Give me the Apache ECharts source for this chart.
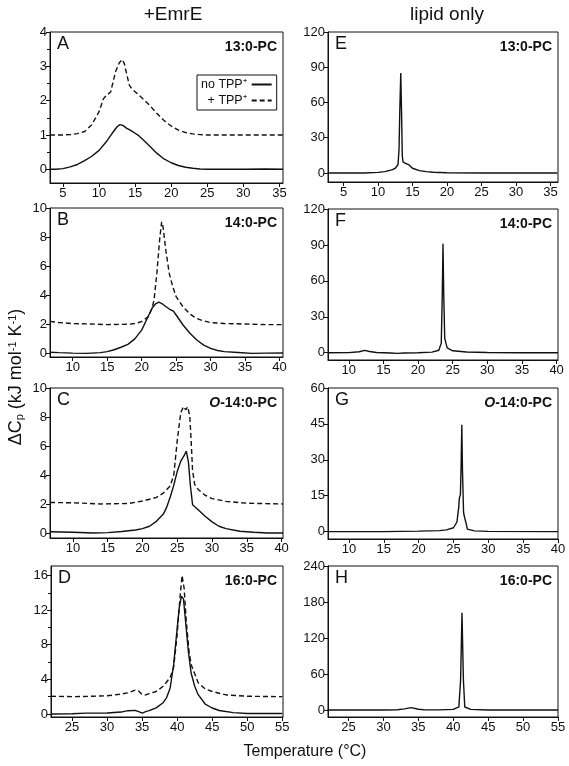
<!DOCTYPE html>
<html><head><meta charset="utf-8">
<script src="https://cdn.jsdelivr.net/npm/echarts@6/dist/echarts.min.js"></script>
<style>html,body{margin:0;padding:0;background:#fff}#c{width:569px;height:766px}</style>
</head><body><div id="c"></div>
<script>
// ---------- data ----------
const a_noTPP = [[3.2,0],[4,0],[5,0.02],[6,0.07],[7,0.14],[8,0.25],[9,0.38],[10,0.55],[11,0.8],[11.5,0.95],[12,1.1],[12.5,1.24],[12.9,1.3],[13.3,1.28],[13.8,1.2],[14.5,1.12],[15,1.05],[15.5,0.98],[16,0.88],[17,0.68],[18,0.47],[19,0.3],[20,0.19],[21,0.11],[22,0.06],[23,0.03],[24,0.01],[25,0],[30,0],[33,0.01],[35.5,0]];
const a_TPP = [[3.2,1],[5,1],[6,1.01],[7,1.04],[8,1.1],[9,1.3],[10,1.68],[10.6,2.05],[11,2.15],[11.6,2.25],[12.3,2.85],[12.8,3.1],[13.2,3.2],[13.5,3.08],[13.8,2.8],[14.2,2.45],[14.6,2.33],[15,2.26],[16,2.07],[17,1.87],[18,1.63],[19,1.42],[20,1.26],[21,1.14],[22,1.07],[23,1.03],[24,1.01],[25,1],[35.5,1]];
const b_noTPP = [[6.7,0.08],[8,0.05],[10,0.02],[12,0],[14,0.05],[15,0.12],[16,0.25],[17,0.42],[18,0.62],[19,1.0],[20,1.6],[21,2.6],[21.5,3.1],[22,3.4],[22.5,3.52],[23,3.4],[24,3.05],[24.6,2.9],[25,2.64],[26,1.95],[27,1.38],[28,0.92],[29,0.57],[30,0.34],[31,0.2],[32,0.12],[34,0.06],[36,0],[38,0.02],[40.5,0.03]];
const b_TPP = [[6.7,2.2],[8,2.12],[10,2.05],[12,2.03],[15,1.98],[18,2.0],[19,2.05],[20,2.18],[21,2.55],[21.5,3.1],[21.8,3.7],[22.2,5.5],[22.6,7.8],[22.9,9.05],[23.1,8.7],[23.5,7.1],[24,5.5],[24.5,4.6],[25,3.9],[26,3.2],[27,2.7],[28,2.4],[29,2.23],[30,2.12],[32,2.05],[35,2.02],[38,1.98],[40.5,1.98]];
const c_noTPP = [[6.7,0.08],[10,0.05],[13,0],[15,0.02],[17,0.1],[19,0.2],[20,0.3],[21,0.46],[22,0.8],[23,1.3],[23.5,1.8],[24,2.5],[24.5,3.3],[25,4.25],[25.5,4.95],[26,5.35],[26.3,5.65],[26.6,4.9],[26.9,3.2],[27.2,1.95],[28,1.6],[29,1.15],[30,0.76],[31,0.46],[32,0.3],[34,0.12],[36,0.05],[38,0],[40.2,0]];
const c_TPP = [[6.7,2.1],[10,2.08],[14,2.0],[18,2.03],[20,2.2],[22,2.45],[23,2.75],[24,3.25],[24.5,4.0],[25,6.4],[25.5,8.3],[25.9,8.72],[26.2,8.5],[26.5,8.7],[26.8,8.05],[27,6.3],[27.2,4.3],[27.5,3.35],[28,3.0],[29,2.6],[30,2.37],[32,2.18],[35,2.05],[40.2,2.0]];
const d_noTPP = [[22,0],[25,0.02],[27,0.1],[30,0.12],[32,0.22],[33,0.38],[34,0.42],[34.6,0.25],[35,0.1],[35.6,0.3],[36,0.38],[37,0.7],[38,1.3],[38.5,1.9],[39,3.0],[39.5,5.7],[40,9.9],[40.3,12.3],[40.6,13.6],[40.9,13.3],[41.2,10.7],[41.6,7.2],[42,4.7],[42.5,3.2],[43,2.23],[44,1.15],[45,0.69],[46,0.4],[48,0.15],[50,0.06],[55,0.05]];
const d_TPP = [[22,2.05],[25,2.0],[28,2.05],[30,2.1],[32,2.3],[33,2.45],[34,2.75],[34.5,2.65],[35,2.25],[35.5,2.2],[36,2.35],[37,2.6],[38,3.2],[39,4.2],[39.5,5.4],[40,9.2],[40.4,13.4],[40.7,16.0],[41,14.5],[41.3,10.7],[41.7,7.2],[42,5.7],[43,3.6],[44,2.9],[45,2.6],[47,2.2],[50,2.05],[55,2.0]];
const e_lipid = [[2.8,0],[8,0],[10,0.5],[11,1.1],[12,2.6],[12.5,4],[12.9,7],[13.05,20],[13.15,50],[13.3,85],[13.42,50],[13.52,15],[13.62,9.5],[14,8.2],[14.5,6.8],[15,4],[16,2],[17,1.1],[18,0.6],[20,0.2],[25,0],[36,0]];
const f_lipid = [[7,0],[10,0.1],[11.5,0.8],[12.3,1.9],[13,1.0],[14,0.2],[16,-0.3],[17,-0.6],[18,-0.3],[20,0],[22,0.5],[23,2],[23.35,8],[23.5,50],[23.6,91],[23.7,50],[23.85,12],[24.2,4],[25,1.6],[27,0.6],[30,0.2],[35,0],[40.2,0]];
const g_lipid = [[7,0],[15,0],[20,0.2],[23,0.4],[24,0.7],[25,1.6],[25.5,4],[25.75,10],[25.85,14],[26.0,15.5],[26.1,28],[26.2,44.6],[26.3,25],[26.45,8],[26.55,6.5],[26.7,6],[26.85,3],[27,1],[28,0.3],[30,0.1],[40,0]];
const h_lipid = [[22,0],[30,0],[32,0.5],[33,1.8],[34,4],[35,1.2],[36,0.2],[38,0.2],[40,1],[40.8,5],[41.05,50],[41.25,162],[41.45,50],[41.65,5],[42.5,1],[45,0],[55,0]];

const xTicks13 = [5,10,15,20,25,30,35];
const xTicks14 = [10,15,20,25,30,35,40];
const xTicks16 = [25,30,35,40,45,50,55];
const yTicksA = [0,1,2,3,4], yMinorA = [0.5,1.5,2.5,3.5];
const yTicksBC = [0,2,4,6,8,10];
const yTicksD = [0,4,8,12,16], yMinorD = [2,6,10,14];
const yTicksEF = [0,30,60,90,120];
const yTicksG = [0,15,30,45,60];
const yTicksH = [0,60,120,180,240];
const letters = ['A','B','C','D','E','F','G','H'];
const lipids = ['13:0-PC','14:0-PC','{i|O}-14:0-PC','16:0-PC','13:0-PC','14:0-PC','{i|O}-14:0-PC','16:0-PC'];
const nameNo = 'no TPP\u207A', nameTPP = '+ TPP\u207A', nameLipid = 'lipid only';

// ---------- layout ----------
const panels = [
 {g:{left:50,top:32,width:233,height:151}, x:[3.2,35.5], y:[-0.4,4], xt:xTicks13, yt:yTicksA, ym:yMinorA, s:[[a_noTPP,nameNo,'solid'],[a_TPP,nameTPP,'dash']]},
 {g:{left:50,top:208,width:233,height:149}, x:[6.7,40.5], y:[-0.25,10], xt:xTicks14, yt:yTicksBC, s:[[b_noTPP,nameNo,'solid'],[b_TPP,nameTPP,'dash']]},
 {g:{left:50,top:388,width:233,height:150}, x:[6.7,40.2], y:[-0.35,10], xt:xTicks14, yt:yTicksBC, s:[[c_noTPP,nameNo,'solid'],[c_TPP,nameTPP,'dash']]},
 {g:{left:51,top:566,width:232,height:151}, x:[22,55.1], y:[-0.35,17.1], xt:xTicks16, yt:yTicksD, ym:yMinorD, s:[[d_noTPP,nameNo,'solid'],[d_TPP,nameTPP,'dash']]},
 {g:{left:328,top:32,width:230,height:150}, x:[2.75,36.1], y:[-7.7,120], xt:xTicks13, yt:yTicksEF, s:[[e_lipid,nameLipid,'solid']]},
 {g:{left:328,top:209,width:230,height:151}, x:[7,40.2], y:[-6.1,120], xt:xTicks14, yt:yTicksEF, s:[[f_lipid,nameLipid,'solid']]},
 {g:{left:328,top:388,width:230,height:151}, x:[7,40], y:[-3.1,60], xt:xTicks14, yt:yTicksG, s:[[g_lipid,nameLipid,'solid']]},
 {g:{left:328,top:566,width:230,height:151}, x:[22.06,55], y:[-11.7,240], xt:xTicks16, yt:yTicksH, s:[[h_lipid,nameLipid,'solid']]}
];

const FONT = '"Liberation Sans", Arial, Helvetica, sans-serif';
const K = '#111';
const grids=[], xAxes=[], yAxes=[], series=[], graphics=[];
panels.forEach((p,i)=>{
  grids.push(Object.assign({show:true, borderColor:K, borderWidth:1, backgroundColor:'transparent'}, p.g));
  xAxes.push({type:'value', gridIndex:i, min:p.x[0], max:p.x[1], position:'bottom',
    axisLine:{show:true, onZero:false, lineStyle:{color:K,width:1}},
    axisTick:{show:true, inside:false, length:4, customValues:p.xt, lineStyle:{color:K}},
    axisLabel:{customValues:p.xt, fontSize:13, color:K, fontFamily:FONT, margin:4},
    splitLine:{show:false}});
  const yi = yAxes.length;
  yAxes.push({type:'value', gridIndex:i, min:p.y[0], max:p.y[1], position:'left',
    axisLine:{show:true, onZero:false, lineStyle:{color:K,width:1}},
    axisTick:{show:true, inside:false, length:4, customValues:p.yt, lineStyle:{color:K}},
    axisLabel:{customValues:p.yt, fontSize:13, color:K, fontFamily:FONT, margin:3},
    splitLine:{show:false}});
  if (p.ym) {
    yAxes.push({type:'value', gridIndex:i, min:p.y[0], max:p.y[1], position:'left', offset:0,
      axisLine:{show:false, onZero:false},
      axisTick:{show:true, inside:false, length:3, customValues:p.ym, lineStyle:{color:K}},
      axisLabel:{show:false}, splitLine:{show:false}});
  }
  p.s.forEach(([data,name,type])=>{
    series.push({type:'line', name:name, xAxisIndex:i, yAxisIndex:yi, data:data,
      symbol:'none', showSymbol:false, smooth:false, silent:true,
      itemStyle:{color:K, opacity:0},
      lineStyle:{color:K, width:1.4, opacity:1, type: type==='dash' ? [5,3] : 'solid'}});
  });
  graphics.push({type:'text', left:p.g.left+7, top:p.g.top+3,
    style:{text:letters[i], font:'18px '+FONT, fill:K}});
  graphics.push({type:'text', right:569-(p.g.left+p.g.width)+6, top:p.g.top+8,
    style:{text:lipids[i], font:'bold 14px '+FONT, fill:K,
      rich:{i:{fontStyle:'italic', fontWeight:'bold', fontSize:14, fontFamily:FONT, fill:K}}}});
});

graphics.push({type:'text', x:173, y:15, style:{text:'+EmrE', font:'19px '+FONT, fill:K, align:'center', verticalAlign:'middle'}});
graphics.push({type:'text', x:447, y:15, style:{text:'lipid only', font:'19px '+FONT, fill:K, align:'center', verticalAlign:'middle'}});
graphics.push({type:'text', x:305, y:752, style:{text:'Temperature (\u00B0C)', font:'16px '+FONT, fill:K, align:'center', verticalAlign:'middle'}});
graphics.push({type:'text', x:16, y:377, rotation:Math.PI/2,
  style:{text:'\u0394C{sub|p} (kJ mol{sup|-1} K{sup|-1})', font:'18px '+FONT, fill:K, align:'center', verticalAlign:'middle',
    rich:{sub:{fontSize:11, fontFamily:FONT, fill:K, verticalAlign:'bottom', padding:[7,0,0,0]},
          sup:{fontSize:11, fontFamily:FONT, fill:K, verticalAlign:'top', padding:[0,0,7,0]}}}});

const chart = echarts.init(document.getElementById('c'), null, {renderer:'canvas'});
chart.setOption({
  animation:false,
  backgroundColor:'#fff',
  grid:grids, xAxis:xAxes, yAxis:yAxes, series:series,
  legend:{data:[nameNo,nameTPP], orient:'vertical', align:'right', left:197, top:75,
    borderColor:K, borderWidth:1, padding:[3,4,3,4], itemGap:3, itemWidth:20, itemHeight:10,
    itemStyle:{opacity:0},
    textStyle:{fontSize:12.5, color:K, fontFamily:FONT}, selectedMode:false},
  graphic:graphics
});
</script></body></html>
